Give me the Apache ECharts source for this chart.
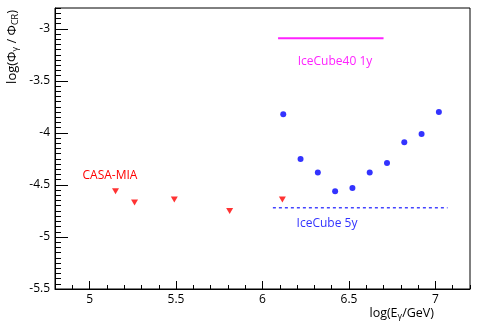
<!DOCTYPE html>
<html>
<head>
    <meta charset="utf-8">
    <title>gamma flux limits</title>
    <script src="https://cdn.jsdelivr.net/npm/echarts@6/dist/echarts.min.js"></script>
    <style>
        body { margin: 0; background: #fff; }
        #chart { width: 480px; height: 327px; }
    </style>
</head>
<body>
<div id="chart"></div>
<script type="text/javascript">
    // CASA-MIA upper limits (red triangles)
    var casaX = [5.15, 5.26, 5.49, 5.81, 6.115];
    var casaY = [-4.56, -4.67, -4.64, -4.75, -4.64];
    // IceCube points (blue dots)
    var iceX = [6.12, 6.22, 6.32, 6.42, 6.52, 6.62, 6.72, 6.82, 6.92, 7.02];
    var iceY = [-3.82, -4.25, -4.38, -4.56, -4.53, -4.38, -4.29, -4.09, -4.01, -3.80];
    // IceCube40 1y sensitivity (magenta line)
    var ic40X = [6.09, 6.70];
    var ic40Y = [-3.09, -3.09];
    // IceCube 5y sensitivity (dashed blue line)
    var ic5X = [6.06, 7.07];
    var ic5Y = [-4.72, -4.72];

    var xMajor = [5, 5.5, 6, 6.5, 7];
    var yMajor = [-5.5, -5, -4.5, -4, -3.5, -3];
    var xRange = [4.8, 7.2];
    var yRange = [-5.5, -2.8];

    function steps(a, b, d) {
        var out = [];
        var n = Math.round((b - a) / d);
        for (var i = 0; i <= n; i++) out.push(Math.round((a + i * d) * 1000) / 1000);
        return out;
    }
    var xMinor = steps(xRange[0], xRange[1], 0.1);
    var yMinor = steps(yRange[0], yRange[1], 0.05);

    function pairs(xs, ys) {
        return xs.map(function (x, i) { return [x, ys[i]]; });
    }

    var font = 'Open Sans';
    var black = '#000';

    function xAx(major) {
        return {
            type: 'value', position: 'bottom', min: xRange[0], max: xRange[1],
            axisLine: { show: major, lineStyle: { color: black, width: 1 } },
            axisTick: { show: true, inside: true, length: major ? 8 : 4,
                customValues: major ? xMajor : xMinor, lineStyle: { color: black } },
            axisLabel: { show: major, customValues: xMajor, margin: 5,
                color: black, fontSize: 12, fontFamily: font },
            splitLine: { show: false }
        };
    }
    function yAx(major) {
        return {
            type: 'value', position: 'left', min: yRange[0], max: yRange[1],
            axisLine: { show: major, lineStyle: { color: black, width: 1 } },
            axisTick: { show: true, inside: true, length: major ? 13 : 6,
                customValues: major ? yMajor : yMinor, lineStyle: { color: black } },
            axisLabel: { show: major, customValues: yMajor, margin: 5,
                color: black, fontSize: 12, fontFamily: font },
            splitLine: { show: false }
        };
    }

    var myChart = echarts.init(document.getElementById('chart'));
    myChart.setOption({
        animation: false,
        backgroundColor: '#fff',
        grid: { left: 55, right: 10, top: 8, bottom: 38, show: true,
            borderColor: black, borderWidth: 1, backgroundColor: 'transparent' },
        xAxis: [xAx(true), xAx(false)],
        yAxis: [yAx(true), yAx(false)],
        graphic: [
            { type: 'text', x: 12, y: 10, rotation: Math.PI / 2,
                style: { text: 'log(Φ{s|γ} / Φ{s|CR})', align: 'right', verticalAlign: 'middle',
                    fill: black, fontSize: 13, fontFamily: font,
                    rich: { s: { fontSize: 9, fontFamily: font, padding: [7, 0, 0, 0], fill: black } } } },
            { type: 'text', x: 434, y: 313,
                style: { text: 'log(E{s|γ}/GeV)', align: 'right', verticalAlign: 'middle',
                    fill: black, fontSize: 12.5, fontFamily: font,
                    rich: { s: { fontSize: 9, fontFamily: font, padding: [7, 0, 0, 0], fill: black } } } },
            { type: 'text', x: 110, y: 176,
                style: { text: 'CASA-MIA', align: 'center', verticalAlign: 'middle',
                    fill: '#ff0000', fontSize: 12, fontFamily: font } },
            { type: 'text', x: 335, y: 62,
                style: { text: 'IceCube40 1y', align: 'center', verticalAlign: 'middle',
                    fill: '#ff22ff', fontSize: 12, fontFamily: font } },
            { type: 'text', x: 327, y: 224,
                style: { text: 'IceCube 5y', align: 'center', verticalAlign: 'middle',
                    fill: '#3333ff', fontSize: 12, fontFamily: font } }
        ],
        series: [
            {
                name: 'IceCube40 1y', type: 'line', data: pairs(ic40X, ic40Y),
                symbol: 'none', lineStyle: { color: '#ff22ff', width: 2 }
            },
            {
                name: 'IceCube 5y', type: 'line', data: pairs(ic5X, ic5Y),
                symbol: 'none', lineStyle: { color: '#4444ff', width: 1.5, type: [3, 3] }
            },
            {
                name: 'CASA-MIA', type: 'scatter', data: pairs(casaX, casaY),
                symbol: 'triangle', symbolRotate: 180, symbolSize: [7, 6],
                itemStyle: { color: '#ff0000' }
            },
            {
                name: 'IceCube', type: 'scatter', data: pairs(iceX, iceY),
                symbol: 'circle', symbolSize: 6,
                itemStyle: { color: '#0000ff' }
            }
        ]
    });
</script>
</body>
</html>
